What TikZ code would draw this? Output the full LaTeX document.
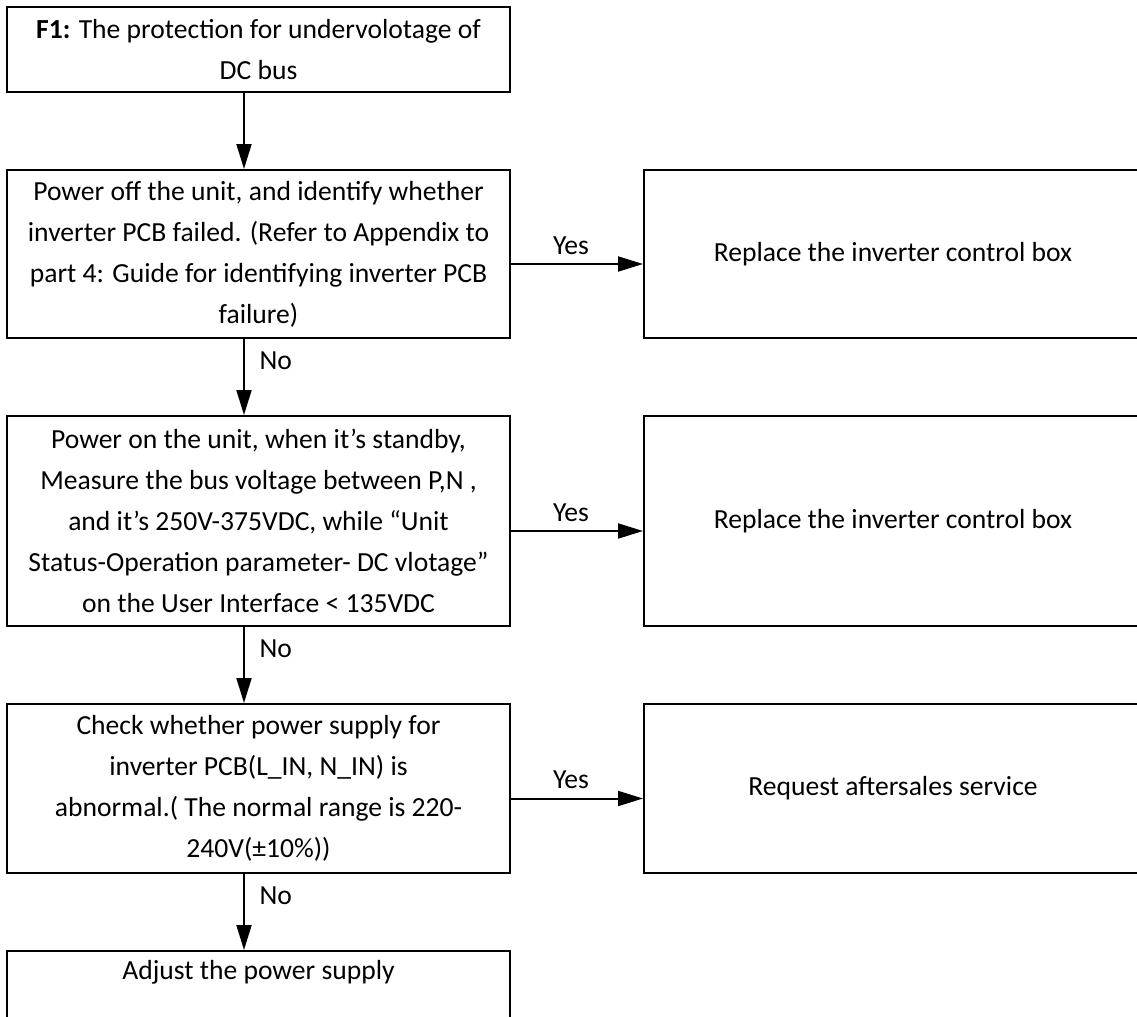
\documentclass[tikz,border=0pt]{standalone}
\usepackage{fontspec}
\setmainfont{Carlito}
\usetikzlibrary{arrows.meta, positioning}

\tikzset{
  stepbox/.style={draw, line width=1pt, align=center, minimum width=251.5pt, inner sep=2pt},
  sidebox/.style={draw, line width=1pt, align=center, minimum width=249pt, inner sep=2pt},
  flow/.style={line width=1pt, -{Triangle[length=12.5pt, width=7.5pt]}},
}

\begin{document}
\begin{tikzpicture}[x=0.5pt, y=-0.5pt, font=\fontsize{13.8}{20.5}\selectfont, node distance=38pt]
    \clip (0,0) rectangle (1137,1017);
    % left column
    \node[stepbox, minimum height=42.5pt] (fault) at (258.5,49.5) {\textbf{F1:} The protection for undervolotage of\\DC bus};
    \node[stepbox, minimum height=84pt, below=of fault] (pcbcheck) {Power off the unit, and identify whether\\inverter PCB failed. (Refer to Appendix to\\part 4: Guide for identifying inverter PCB\\failure)};
    \node[stepbox, minimum height=105pt, below=of pcbcheck] (busvolt) {Power on the unit, when it’s standby,\\Measure the bus voltage between P,N ,\\and it’s 250V-375VDC, while “Unit\\Status-Operation parameter- DC vlotage”\\on the User Interface < 135VDC};
    \node[stepbox, minimum height=84.5pt, below=of busvolt] (supply) {Check whether power supply for\\inverter PCB(L\_IN, N\_IN) is\\abnormal.( The normal range is 220-\\240V(±10\%))};
    \node[stepbox, inner ysep=0pt, text height=14pt, text depth=29pt, below=of supply] (adjust) {Adjust the power supply};
    % right column
    \node[sidebox, minimum height=84pt, right=66pt of pcbcheck] (replaceA) {Replace the inverter control box};
    \node[sidebox, minimum height=105pt, right=66pt of busvolt] (replaceB) {Replace the inverter control box};
    \node[sidebox, minimum height=84.5pt, right=66pt of supply] (service) {Request aftersales service};
    % arrows
    \draw[flow] ([xshift=-7.25pt]fault.south) -- ([xshift=-7.25pt]pcbcheck.north);
    \draw[flow] ([xshift=-7.25pt]pcbcheck.south) -- node[pos=0.28, right=4pt] {No} ([xshift=-7.25pt]busvolt.north);
    \draw[flow] ([xshift=-7.25pt]busvolt.south) -- node[pos=0.28, right=4pt] {No} ([xshift=-7.25pt]supply.north);
    \draw[flow] ([xshift=-7.25pt]supply.south) -- node[pos=0.28, right=4pt] {No} ([xshift=-7.25pt]adjust.north);
    \draw[flow] ([yshift=-5pt]pcbcheck.east) -- node[above=1pt, xshift=-3pt] {Yes} ([yshift=-5pt]replaceA.west);
    \draw[flow] ([yshift=-5pt]busvolt.east) -- node[above=1pt, xshift=-3pt] {Yes} ([yshift=-5pt]replaceB.west);
    \draw[flow] ([yshift=-5pt]supply.east) -- node[above=1pt, xshift=-3pt] {Yes} ([yshift=-5pt]service.west);
\end{tikzpicture}
\end{document}
